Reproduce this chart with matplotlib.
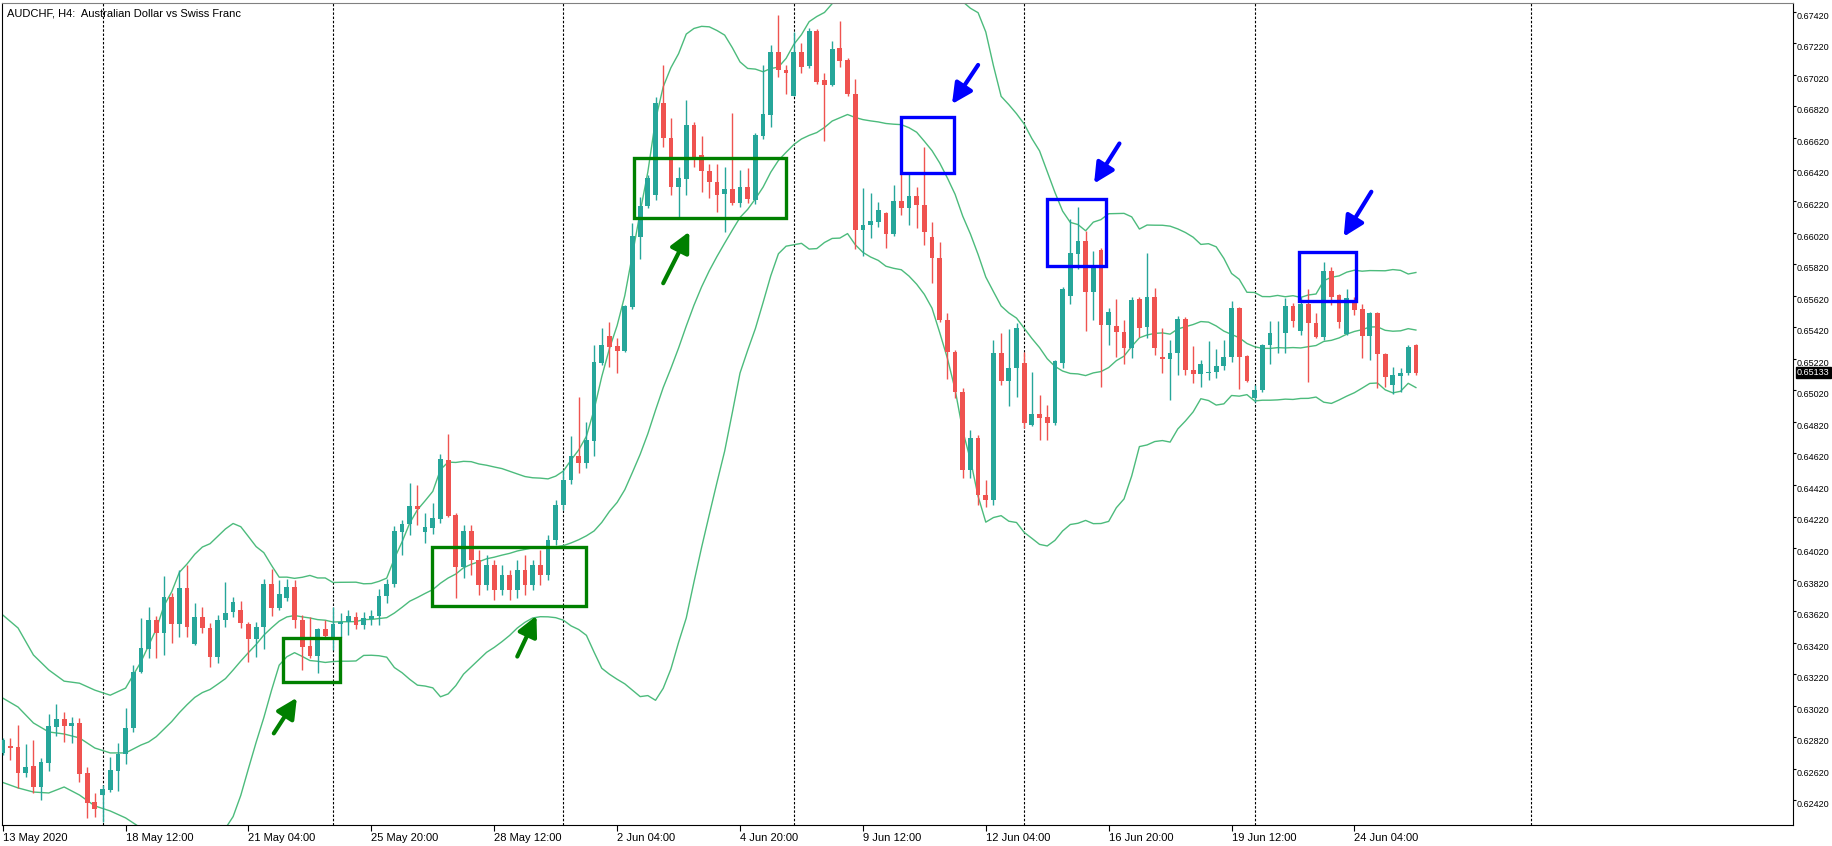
import numpy as np
import pandas as pd
import matplotlib
matplotlib.use("Agg")
import matplotlib.pyplot as plt
from matplotlib.patches import Rectangle, FancyArrowPatch
from matplotlib.transforms import blended_transform_factory, ScaledTranslation

# ---------- figure / style ----------
W, H, DPI = 1832, 846, 100
FONT = ["Liberation Sans", "DejaVu Sans"]
BULL = "#26a69a"
BEAR = "#ef5350"
BAND = "#4cbb7c"

# ---------- AUDCHF H4 bars (bar 0 = 13 May 2020 20:00) ----------
opens = [0.62720, 0.62768, 0.62760, 0.62592, 0.62638, 0.62507, 0.62655, 0.62887, 0.62934, 0.62892,
         0.62908, 0.62592, 0.62408, 0.62454, 0.62486, 0.62606, 0.62714, 0.62877, 0.63236, 0.63380,
         0.63564, 0.63479, 0.63711, 0.63538, 0.63769, 0.63412, 0.63585, 0.63511, 0.63327, 0.63564,
         0.63616, 0.63627, 0.63538, 0.63441, 0.63517, 0.63789, 0.63640, 0.63701, 0.63773, 0.63566,
         0.63396, 0.63336, 0.63505, 0.63458, 0.63538, 0.63553, 0.63585, 0.63530, 0.63572, 0.63587,
         0.63716, 0.63792, 0.64124, 0.64170, 0.64287, 0.64124, 0.64145, 0.64204, 0.64578, 0.64229,
         0.63898, 0.64128, 0.63944, 0.63786, 0.63913, 0.63754, 0.63849, 0.63754, 0.63881, 0.63786,
         0.63913, 0.63849, 0.64071, 0.64293, 0.64451, 0.64604, 0.64560, 0.64700, 0.65195, 0.65364,
         0.65301, 0.65271, 0.65550, 0.65994, 0.66189, 0.66258, 0.66840, 0.66618, 0.66311, 0.66357,
         0.66702, 0.66512, 0.66411, 0.66338, 0.66265, 0.66294, 0.66210, 0.66307, 0.66227, 0.66633,
         0.66766, 0.67167, 0.67051, 0.66886, 0.67167, 0.67076, 0.67300, 0.66988, 0.66956, 0.67188,
         0.67114, 0.66899, 0.66036, 0.66068, 0.66089, 0.66146, 0.66011, 0.66222, 0.66174, 0.66252,
         0.66195, 0.65990, 0.65857, 0.65466, 0.65265, 0.65011, 0.64515, 0.64718, 0.64356, 0.64325,
         0.65255, 0.65082, 0.65159, 0.65195, 0.64800, 0.64870, 0.64849, 0.64811, 0.65195, 0.65618,
         0.65884, 0.65967, 0.65645, 0.65910, 0.65434, 0.65428, 0.65392, 0.65287, 0.65597, 0.65423,
         0.65614, 0.65233, 0.65217, 0.65258, 0.65470, 0.65149, 0.65123, 0.65132, 0.65138, 0.65174,
         0.65233, 0.65540, 0.65238, 0.64971, 0.65022, 0.65307, 0.65381, 0.65386, 0.65555, 0.65398,
         0.65567, 0.65449, 0.65360, 0.65777, 0.65624, 0.65377, 0.65582, 0.65534, 0.65364, 0.65512,
         0.65250, 0.65054, 0.65111, 0.65132, 0.65307]
highs = [0.62816, 0.62816, 0.62898, 0.62777, 0.62803, 0.62687, 0.62968, 0.63031, 0.62982, 0.62947,
         0.62940, 0.62634, 0.62465, 0.62518, 0.62697, 0.62782, 0.63004, 0.63278, 0.63575, 0.63648,
         0.63591, 0.63843, 0.63733, 0.63881, 0.63912, 0.63673, 0.63644, 0.63547, 0.63595, 0.63806,
         0.63711, 0.63686, 0.63551, 0.63553, 0.63824, 0.63884, 0.63819, 0.63822, 0.63819, 0.63595,
         0.63585, 0.63511, 0.63564, 0.63644, 0.63608, 0.63627, 0.63616, 0.63612, 0.63627, 0.63758,
         0.63822, 0.64162, 0.64198, 0.64430, 0.64420, 0.64240, 0.64304, 0.64615, 0.64743, 0.64240,
         0.64166, 0.64166, 0.64008, 0.63976, 0.63944, 0.63913, 0.63881, 0.63944, 0.63976, 0.63944,
         0.64008, 0.64103, 0.64325, 0.64515, 0.64730, 0.64980, 0.64821, 0.65307, 0.65413, 0.65455,
         0.65350, 0.65561, 0.66083, 0.66244, 0.66385, 0.66882, 0.67083, 0.66745, 0.66438, 0.66861,
         0.66723, 0.66633, 0.66458, 0.66454, 0.66438, 0.66776, 0.66417, 0.66428, 0.66650, 0.67083,
         0.67210, 0.67400, 0.67083, 0.67294, 0.67220, 0.67315, 0.67309, 0.67030, 0.67237, 0.67364,
         0.67125, 0.66992, 0.66301, 0.66269, 0.66216, 0.66152, 0.66322, 0.66396, 0.66396, 0.66307,
         0.66565, 0.66089, 0.65962, 0.65512, 0.65276, 0.65035, 0.64768, 0.64737, 0.64451, 0.65339,
         0.65386, 0.65407, 0.65445, 0.65265, 0.65138, 0.64990, 0.64927, 0.65212, 0.65677, 0.66104,
         0.66180, 0.66032, 0.65905, 0.65922, 0.65540, 0.65597, 0.65466, 0.65614, 0.65614, 0.65889,
         0.65667, 0.65413, 0.65339, 0.65491, 0.65487, 0.65301, 0.65212, 0.65335, 0.65279, 0.65339,
         0.65588, 0.65546, 0.65244, 0.65054, 0.65314, 0.65461, 0.65461, 0.65603, 0.65576, 0.65610,
         0.65660, 0.65512, 0.65836, 0.65799, 0.65631, 0.65660, 0.65610, 0.65567, 0.65519, 0.65519,
         0.65255, 0.65167, 0.65159, 0.65307, 0.65314]
lows = [0.62708, 0.62676, 0.62497, 0.62570, 0.62465, 0.62422, 0.62606, 0.62830, 0.62792, 0.62782,
        0.62538, 0.62306, 0.62315, 0.62285, 0.62475, 0.62481, 0.62651, 0.62856, 0.63228, 0.63321,
        0.63321, 0.63342, 0.63416, 0.63458, 0.63454, 0.63405, 0.63479, 0.63264, 0.63289, 0.63521,
        0.63585, 0.63511, 0.63300, 0.63327, 0.63380, 0.63589, 0.63627, 0.63686, 0.63511, 0.63247,
        0.63321, 0.63230, 0.63454, 0.63374, 0.63458, 0.63466, 0.63504, 0.63505, 0.63532, 0.63532,
        0.63670, 0.63775, 0.63976, 0.64103, 0.64166, 0.64054, 0.64109, 0.64177, 0.64217, 0.63701,
        0.63830, 0.63849, 0.63722, 0.63754, 0.63691, 0.63722, 0.63691, 0.63703, 0.63722, 0.63754,
        0.63786, 0.63817, 0.64039, 0.64261, 0.64426, 0.64494, 0.64525, 0.64604, 0.65181, 0.65170,
        0.65128, 0.65265, 0.65534, 0.65851, 0.66174, 0.66227, 0.66565, 0.66258, 0.66121, 0.66258,
        0.66438, 0.66279, 0.66238, 0.66152, 0.66026, 0.66195, 0.66184, 0.66206, 0.66201, 0.66612,
        0.66692, 0.67005, 0.66899, 0.66886, 0.67034, 0.67064, 0.66962, 0.66603, 0.66950, 0.67072,
        0.66886, 0.65914, 0.65872, 0.65983, 0.66057, 0.65921, 0.65998, 0.66132, 0.66068, 0.66047,
        0.65941, 0.65703, 0.65453, 0.65089, 0.64969, 0.64464, 0.64464, 0.64293, 0.64280, 0.64293,
        0.65054, 0.64921, 0.64976, 0.64781, 0.64794, 0.64705, 0.64705, 0.64800, 0.65159, 0.65567,
        0.65787, 0.65398, 0.65466, 0.65043, 0.65307, 0.65229, 0.65187, 0.65223, 0.65358, 0.65350,
        0.65244, 0.65128, 0.64959, 0.65117, 0.65117, 0.65065, 0.65043, 0.65085, 0.65096, 0.65149,
        0.65202, 0.65026, 0.65073, 0.64946, 0.65009, 0.65187, 0.65255, 0.65255, 0.65420, 0.65371,
        0.65075, 0.65350, 0.65339, 0.65561, 0.65413, 0.65371, 0.65498, 0.65223, 0.65212, 0.65033,
        0.65043, 0.64997, 0.65011, 0.65117, 0.65117]
closes = [0.62803, 0.62752, 0.62592, 0.62634, 0.62507, 0.62665, 0.62892, 0.62934, 0.62892, 0.62908,
          0.62587, 0.62402, 0.62363, 0.62490, 0.62613, 0.62714, 0.62877, 0.63236, 0.63384, 0.63564,
          0.63479, 0.63711, 0.63538, 0.63769, 0.63517, 0.63585, 0.63511, 0.63327, 0.63564, 0.63606,
          0.63680, 0.63543, 0.63441, 0.63517, 0.63792, 0.63638, 0.63726, 0.63773, 0.63564, 0.63394,
          0.63336, 0.63505, 0.63462, 0.63538, 0.63551, 0.63589, 0.63530, 0.63577, 0.63589, 0.63716,
          0.63792, 0.64128, 0.64172, 0.64287, 0.64266, 0.64151, 0.64209, 0.64585, 0.64225, 0.63898,
          0.64130, 0.63944, 0.63786, 0.63913, 0.63754, 0.63849, 0.63754, 0.63881, 0.63786, 0.63913,
          0.63849, 0.64071, 0.64293, 0.64451, 0.64604, 0.64560, 0.64705, 0.65202, 0.65307, 0.65293,
          0.65271, 0.65555, 0.65998, 0.66189, 0.66364, 0.66840, 0.66618, 0.66311, 0.66368, 0.66702,
          0.66480, 0.66411, 0.66338, 0.66258, 0.66294, 0.66210, 0.66311, 0.66231, 0.66639, 0.66772,
          0.67167, 0.67051, 0.67030, 0.67167, 0.67072, 0.67300, 0.66977, 0.66956, 0.67182, 0.67110,
          0.66899, 0.66036, 0.66068, 0.66095, 0.66163, 0.66011, 0.66222, 0.66174, 0.66252, 0.66195,
          0.66026, 0.65857, 0.65466, 0.65265, 0.65011, 0.64515, 0.64718, 0.64356, 0.64325, 0.65255,
          0.65082, 0.65159, 0.65413, 0.64811, 0.64870, 0.64843, 0.64811, 0.65208, 0.65660, 0.65889,
          0.65967, 0.65645, 0.65808, 0.65434, 0.65519, 0.65392, 0.65287, 0.65593, 0.65413, 0.65614,
          0.65287, 0.65217, 0.65258, 0.65470, 0.65149, 0.65123, 0.65187, 0.65138, 0.65174, 0.65233,
          0.65540, 0.65233, 0.65082, 0.65022, 0.65307, 0.65386, 0.65386, 0.65555, 0.65461, 0.65567,
          0.65449, 0.65360, 0.65777, 0.65610, 0.65455, 0.65603, 0.65529, 0.65364, 0.65512, 0.65250,
          0.65103, 0.65117, 0.65132, 0.65297, 0.65133]

# Bollinger(20, 2) values for the first bars
# (their 20-bar window starts before the first visible bar)
bb_early_bar = [0, 2, 4, 6, 8, 10, 12, 14, 16, 18]
bb_early_up = [0.63596, 0.63513, 0.63342, 0.63247, 0.63176, 0.63163, 0.63119, 0.63087, 0.63132, 0.63298]
bb_early_mid = [0.63069, 0.63012, 0.62911, 0.62854, 0.62841, 0.62816, 0.62752, 0.62721, 0.62721, 0.62771]
bb_early_low = [0.62534, 0.62499, 0.62473, 0.62467, 0.62505, 0.62454, 0.62385, 0.62353, 0.62309, 0.62245]

# weekly separators (bar index of Monday 00:00)
sep_bars = [13, 43, 73, 103, 133, 163, 199]

x_tick_bars = [0, 16, 32, 48, 64, 80, 96, 112, 128, 144, 160, 176]
x_tick_labels = ["13 May 2020", "18 May 12:00", "21 May 04:00", "25 May 20:00", "28 May 12:00",
                 "2 Jun 04:00", "4 Jun 20:00", "9 Jun 12:00", "12 Jun 04:00", "16 Jun 20:00",
                 "19 Jun 12:00", "24 Jun 04:00"]
y_tick_labels = ["0.62420", "0.62620", "0.62820", "0.63020", "0.63220", "0.63420", "0.63620",
                 "0.63820", "0.64020", "0.64220", "0.64420", "0.64620", "0.64820", "0.65020",
                 "0.65220", "0.65420", "0.65620", "0.65820", "0.66020", "0.66220", "0.66420",
                 "0.66620", "0.66820", "0.67020", "0.67220", "0.67420"]

# annotation boxes: (bar_left, bar_right, price_low, price_high)
green_boxes = [(36.5, 43.9, 0.63171, 0.63450),
               (55.9, 76.0, 0.63653, 0.64029),
               (82.2, 102.0, 0.66111, 0.66490)]
blue_boxes = [(117.0, 123.8, 0.66400, 0.66751),
              (136.0, 143.6, 0.65808, 0.66233),
              (168.75, 176.25, 0.65586, 0.65900)]
# arrows: (tail_bar, tail_price, tip_bar, tip_price)
green_arrows = [(35.3, 0.62845, 38.3, 0.63071),
                (67.0, 0.63332, 69.5, 0.63591),
                (86.0, 0.65699, 89.4, 0.66026)]
blue_arrows = [(127.0, 0.67083, 123.6, 0.66835),
               (145.4, 0.66585, 142.1, 0.66331),
               (178.2, 0.66279, 174.6, 0.65994)]

# ---------- figure ----------
fig = plt.figure(figsize=(W / DPI, H / DPI), dpi=DPI)
fig.patch.set_facecolor("white")
ax = fig.add_axes([2 / W, 21 / H, 1791 / W, 822 / H])
ax.set_facecolor("white")

o = np.array(opens)
hi = np.array(highs)
lo = np.array(lows)
c = np.array(closes)
bars = np.arange(len(o))
colors = np.where(c >= o, BULL, BEAR)

# wicks + bodies
ax.vlines(bars, lo, hi, colors=colors, linewidth=1.0, zorder=3)
body_lo = np.minimum(o, c)
body_h = np.maximum(np.abs(c - o), 0.000018)
ax.bar(bars, body_h, bottom=body_lo, width=0.62, color=colors, linewidth=0, zorder=4)

# Bollinger bands (20, 2)
cs = pd.Series(closes)
mid = cs.rolling(20).mean()
sd = cs.rolling(20).std(ddof=0)
bb_bar = bb_early_bar + list(range(19, len(closes)))
bb_up = bb_early_up + list((mid + 2 * sd).iloc[19:])
bb_mid = bb_early_mid + list(mid.iloc[19:])
bb_low = bb_early_low + list((mid - 2 * sd).iloc[19:])
for band in (bb_up, bb_mid, bb_low):
    ax.plot(bb_bar, band, color=BAND, linewidth=1.0, zorder=2)

# period separators
for sb in sep_bars:
    ax.axvline(sb, color="black", linewidth=0.8, linestyle=(0, (2.2, 1.6)), zorder=1)

# boxes
for (x0, x1, y0, y1), col in [(b, "#008000") for b in green_boxes] + [(b, "#0000ff") for b in blue_boxes]:
    ax.add_patch(Rectangle((x0, y0), x1 - x0, y1 - y0, fill=False, edgecolor=col,
                           linewidth=2.4, zorder=6))

# arrows
for (xt, yt, xh, yh), col in [(a, "#008000") for a in green_arrows] + [(a, "#0000ff") for a in blue_arrows]:
    ax.add_patch(FancyArrowPatch((xt, yt), (xh, yh), arrowstyle="-|>,head_length=1.1,head_width=0.55",
                                 mutation_scale=11, color=col, linewidth=3.0,
                                 shrinkA=0, shrinkB=0, zorder=6))

# axes ranges
ax.set_xlim(-0.09, 233.1)
ax.set_ylim(0.622640, 0.674758)

# x axis
ax.set_xticks(x_tick_bars)
ax.set_xticklabels(x_tick_labels, family=FONT, fontsize=8)
for lbl in ax.get_xticklabels():
    lbl.set_horizontalalignment("left")
ax.tick_params(axis="x", direction="out", length=4, width=0.8, pad=2, color="black")

# y axis on the right
ax.yaxis.tick_right()
ax.set_yticks([float(t) for t in y_tick_labels])
ax.set_yticklabels(y_tick_labels, family=FONT, fontsize=6.5)
ax.tick_params(axis="y", direction="out", length=2, width=0.8, pad=0.6, color="black")
shift = ScaledTranslation(0, -2.5 / 72, fig.dpi_scale_trans)
for lbl in ax.get_yticklabels():
    lbl.set_transform(lbl.get_transform() + shift)

for side in ("left", "bottom", "right"):
    ax.spines[side].set_color("black")
    ax.spines[side].set_linewidth(0.8)
ax.spines["top"].set_color("#808080")
ax.spines["top"].set_linewidth(0.8)

# title
ax.text(0.003, 0.9875, "AUDCHF, H4:  Australian Dollar vs Swiss Franc", transform=ax.transAxes,
        ha="left", va="center", fontsize=8, family=FONT, color="black")

# last price label
trans = blended_transform_factory(ax.transAxes, ax.transData)
ax.text(1.0 + 4 / 1791, closes[-1], "%.5f" % closes[-1], transform=trans, ha="left", va="center",
        fontsize=6.5, family=FONT, color="white", zorder=10,
        bbox=dict(boxstyle="square,pad=0.15", facecolor="black", edgecolor="black"))

fig.savefig("out.png", dpi=DPI)
